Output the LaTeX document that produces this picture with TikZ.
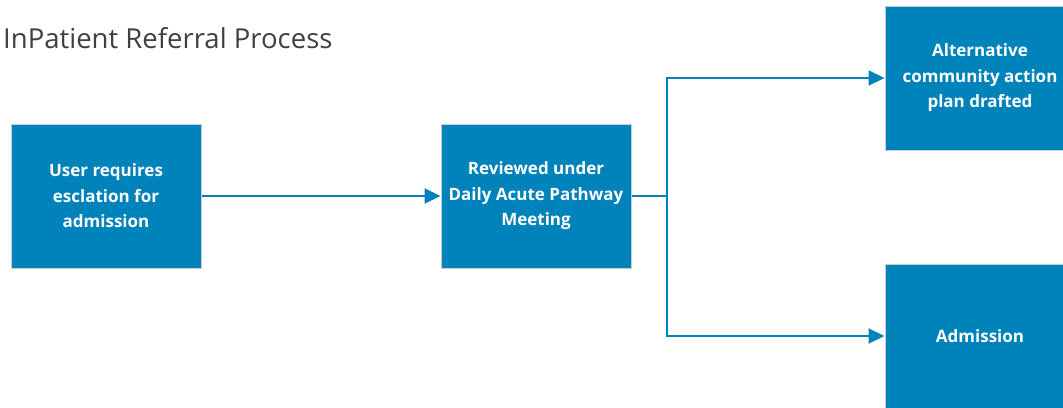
\documentclass[tikz,border=0pt]{standalone}
\usepackage{fontspec}
\setmainfont{Open Sans}
\usetikzlibrary{arrows.meta}

\definecolor{flowblue}{RGB}{0,130,186}
\definecolor{boxedge}{RGB}{200,205,210}
\definecolor{titlegrey}{RGB}{64,64,64}

\tikzset{
  stage/.style={draw=boxedge, line width=1pt, fill=flowblue, text=white,
    minimum width=190pt, minimum height=144pt, align=center, inner sep=0pt,
    font=\fontsize{17}{25.5}\selectfont\bfseries},
  flow/.style={draw=flowblue, line width=2pt, -{Triangle[length=16pt,width=15pt]}}
}

\begin{document}
\begin{tikzpicture}[x=1pt,y=-1pt]
\useasboundingbox (0,0) rectangle (1063,407);

\node[anchor=base west, text=titlegrey, inner sep=0pt, font=\fontsize{27.5}{32}\selectfont] (title) at (3,48) {InPatient Referral Process};

% the four stages
\node[stage] (user) at (106,196) {User requires\\esclation for\\admission};
\node[stage] (review) at (536,196) {Reviewed under\\Daily Acute Pathway\\Meeting};
\node[stage] (alt) at (980,78) {Alternative\\community action\\plan drafted};
\node[stage] (admit) at (980,336) {Admission};

% connectors
\coordinate (split) at (667,196);
\draw[flow] (user.east) -- (review.west);
\draw[draw=flowblue, line width=2pt] (review.east) -- (split);
\draw[flow] (split) |- (alt.west);
\draw[flow] (split) |- (admit.west);
\end{tikzpicture}
\end{document}
